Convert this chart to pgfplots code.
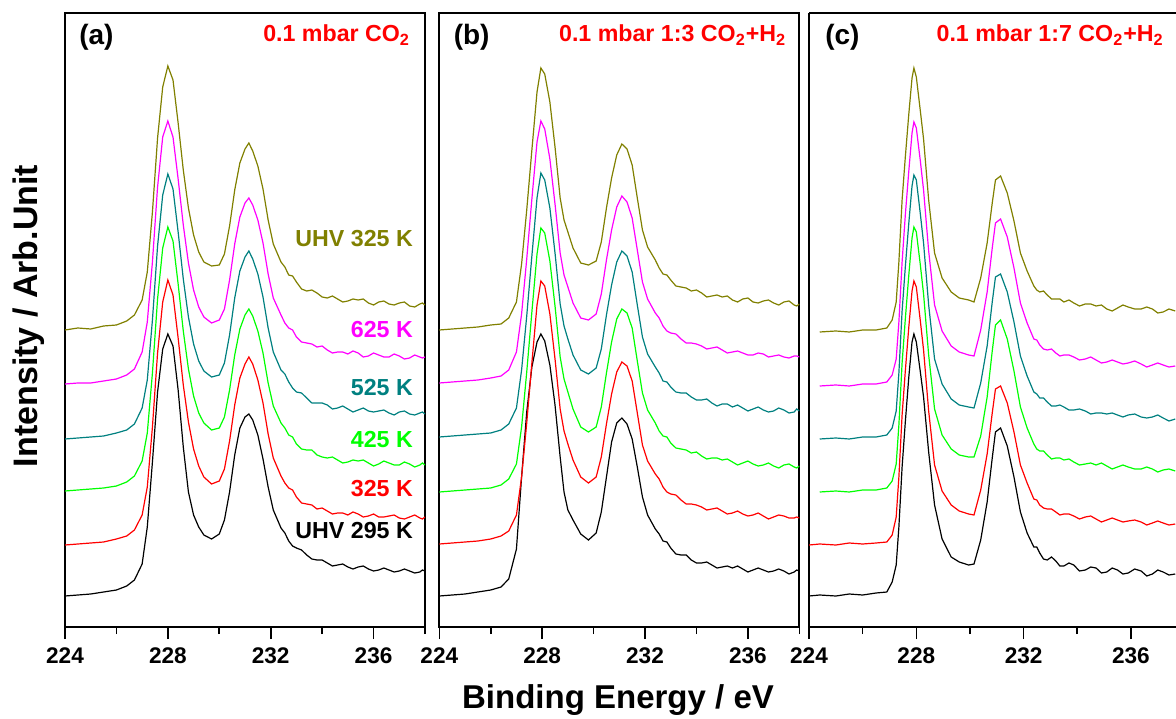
\documentclass[border=0pt]{standalone}
\usepackage{pgfplots}
\pgfplotsset{compat=1.18}
\usepackage{fontspec}
\setmainfont{Liberation Sans}
\setsansfont{Liberation Sans}

\definecolor{cOlive}{RGB}{128,128,0}
\definecolor{cMag}{RGB}{255,0,255}
\definecolor{cTeal}{RGB}{0,128,128}
\definecolor{cGreen}{RGB}{0,255,0}
\definecolor{cRed}{RGB}{255,0,0}

\newcommand{\tk}{\fontsize{11.3}{13}\selectfont\bfseries}
\newcommand{\lbl}{\fontsize{11.6}{13}\selectfont\bfseries}
\newcommand{\cond}{\fontsize{11.6}{13}\selectfont\bfseries}
\newcommand{\pan}{\fontsize{14}{16}\selectfont\bfseries}

\pgfplotsset{
  xps/.style={
    scale only axis, width=180pt, height=307pt,
    xmin=224, xmax=238, ymin=0, ymax=614,
    xtick={224,228,232,236}, minor xtick={226,230,234,238},
    xtick pos=bottom, ytick=\empty,
    tick align=outside,
    major tick length=6pt, minor tick length=3.5pt,
    axis line style={line width=1pt},
    every tick/.style={black, line width=0.8pt},
    xticklabel style={font=\tk},
    xticklabel shift=1pt,
    /pgf/number format/assume math mode=true,
    every axis plot/.append style={line width=0.6pt, no markers},
  },
}

\begin{document}
\begin{tikzpicture}
\useasboundingbox (0,0) rectangle (588pt,359pt);

% ---------- (a) 0.1 mbar CO2 ----------
\begin{axis}[xps, at={(32.5pt,45.5pt)}, anchor=south west]
\addplot[black] coordinates {
(224.0,31)(224.5,32)(225.0,33)(225.5,35)(226.0,37)(226.4,41)(226.7,47)(227.0,63)(227.2,100)(227.4,165)
(227.6,235)(227.8,278)(228.0,293)(228.2,281)(228.4,237)(228.6,180)(228.8,135)(229.0,112)(229.2,100)(229.4,92)
(229.7,88)(230.0,93)(230.2,107)(230.4,135)(230.6,172)(230.8,199)(231.0,210)(231.15,213)(231.3,207)(231.5,192)
(231.7,168)(231.9,140)(232.1,117)
(232.4,99)(232.55,94)(232.7,86)(232.85,81)(233.0,79)(233.2,77)(233.4,72)(233.6,68)(233.8,67)(234.0,67)(234.2,64)(234.4,61)(234.6,62)(234.8,63)(235.0,60)(235.2,58)(235.4,60)(235.6,61)(235.8,58)(236.0,56)(236.2,57)(236.4,59)(236.6,57)(236.8,55)(237.0,56)(237.2,58)(237.4,56)(237.6,54)(237.8,55)(237.9,57)(238.0,56)};
\addplot[cRed] coordinates {
(224.0,82)(224.5,83)(225.0,84)(225.5,85)(226.0,88)(226.4,91)(226.7,97)(227.0,112)(227.2,140)(227.4,200)
(227.6,274)(227.8,325)(228.0,347)(228.2,332)(228.4,289)(228.6,242)(228.8,205)(229.0,178)(229.2,161)(229.4,150)
(229.7,143)(230.0,146)(230.2,158)(230.4,186)(230.6,222)(230.8,249)(231.0,263)(231.15,270)(231.3,263)(231.5,247)
(231.7,224)(231.9,193)(232.1,169)
(232.4,151)(232.55,144)(232.7,139)(232.85,137)(233.0,130)(233.2,124)(233.4,123)(233.6,122)(233.8,118)(234.0,119)(234.2,116)(234.4,113)(234.6,114)(234.8,114)(235.0,112)(235.2,115)(235.4,113)(235.6,110)(235.8,111)(236.0,113)(236.2,110)(236.4,110)(236.6,111)(236.8,112)(237.0,109)(237.2,108)(237.4,110)(237.6,112)(237.8,109)(237.9,108)(238.0,110)};
\addplot[cGreen] coordinates {
(224.0,136)(224.5,137)(225.0,138)(225.5,139)(226.0,141)(226.4,145)(226.7,151)(227.0,166)(227.2,194)(227.4,254)
(227.6,328)(227.8,379)(228.0,400)(228.2,386)(228.4,343)(228.6,296)(228.8,258)(229.0,231)(229.2,214)(229.4,204)
(229.7,197)(230.0,199)(230.2,210)(230.4,237)(230.6,272)(230.8,298)(231.0,312)(231.15,318)(231.3,311)(231.5,296)
(231.7,274)(231.9,244)(232.1,221)
(232.4,204)(232.55,199)(232.7,192)(232.85,190)(233.0,183)(233.2,178)(233.4,177)(233.6,177)(233.8,172)(234.0,170)(234.2,169)(234.4,170)(234.6,167)(234.8,164)(235.0,165)(235.2,167)(235.4,166)(235.6,167)(235.8,164)(236.0,161)(236.2,163)(236.4,166)(236.6,164)(236.8,162)(237.0,162)(237.2,165)(237.4,163)(237.6,160)(237.8,162)(237.9,164)(238.0,162)};
\addplot[cTeal] coordinates {
(224.0,188)(224.5,189)(225.0,190)(225.5,191)(226.0,194)(226.4,197)(226.7,203)(227.0,219)(227.2,247)(227.4,307)
(227.6,381)(227.8,432)(228.0,453)(228.2,438)(228.4,395)(228.6,348)(228.8,310)(229.0,283)(229.2,266)(229.4,256)
(229.7,250)(230.0,252)(230.2,264)(230.4,292)(230.6,329)(230.8,356)(231.0,370)(231.15,376)(231.3,368)(231.5,353)
(231.7,330)(231.9,299)(232.1,275)
(232.4,257)(232.55,253)(232.7,245)(232.85,239)(233.0,235)(233.2,234)(233.4,229)(233.6,224)(233.8,224)(234.0,224)(234.2,222)(234.4,218)(234.6,219)(234.8,221)(235.0,218)(235.2,215)(235.4,217)(235.6,219)(235.8,216)(236.0,215)(236.2,216)(236.4,217)(236.6,214)(236.8,212)(237.0,215)(237.2,216)(237.4,213)(237.6,212)(237.8,214)(237.9,215)(238.0,213)};
\addplot[cMag] coordinates {
(224.0,243)(224.5,244)(225.0,244)(225.5,246)(226.0,248)(226.4,252)(226.7,258)(227.0,275)(227.2,305)(227.4,365)
(227.6,440)(227.8,490)(228.0,506)(228.2,490)(228.4,448)(228.6,402)(228.8,364)(229.0,337)(229.2,320)(229.4,310)
(229.7,304)(230.0,307)(230.2,318)(230.4,347)(230.6,383)(230.8,410)(231.0,424)(231.15,429)(231.3,422)(231.5,407)
(231.7,384)(231.9,353)(232.1,329)
(232.4,312)(232.55,304)(232.7,299)(232.85,297)(233.0,290)(233.2,285)(233.4,284)(233.6,283)(233.8,280)(234.0,281)(234.2,277)(234.4,274)(234.6,275)(234.8,275)(235.0,273)(235.2,276)(235.4,274)(235.6,270)(235.8,271)(236.0,274)(236.2,272)(236.4,270)(236.6,270)(236.8,273)(237.0,271)(237.2,268)(237.4,269)(237.6,272)(237.8,270)(237.9,269)(238.0,270)};
\addplot[cOlive] coordinates {
(224.0,297)(224.5,299)(225.0,298)(225.5,301)(226.0,302)(226.4,306)(226.7,312)(227.0,327)(227.2,355)(227.4,415)
(227.6,489)(227.8,540)(228.0,561)(228.2,547)(228.4,504)(228.6,457)(228.8,419)(229.0,392)(229.2,375)(229.4,365)
(229.7,361)(230.0,362)(230.2,373)(230.4,401)(230.6,437)(230.8,464)(231.0,478)(231.15,484)(231.3,476)(231.5,461)
(231.7,438)(231.9,407)(232.1,383)
(232.4,365)(232.55,360)(232.7,352)(232.85,351)(233.0,345)(233.2,338)(233.4,336)(233.6,337)(233.8,334)(234.0,330)(234.2,329)(234.4,331)(234.6,328)(234.8,325)(235.0,326)(235.2,328)(235.4,327)(235.6,328)(235.8,324)(236.0,322)(236.2,325)(236.4,326)(236.6,323)(236.8,322)(237.0,324)(237.2,325)(237.4,321)(237.6,320)(237.8,323)(237.9,324)(238.0,322)};
\node[anchor=base west, font=\pan] at (rel axis cs:0.02,0.948) {(a)};
\node[anchor=base east, font=\cond, text=cRed] at (rel axis cs:0.978,0.953) {0.1 mbar CO\textsubscript{2}};
\node[anchor=base east, font=\lbl, text=cOlive] at (axis cs:237.8,380) {UHV 325 K};
\node[anchor=base east, font=\lbl, text=cMag] at (axis cs:237.8,290) {625 K};
\node[anchor=base east, font=\lbl, text=cTeal] at (axis cs:237.8,232) {525 K};
\node[anchor=base east, font=\lbl, text=cGreen] at (axis cs:237.8,180) {425 K};
\node[anchor=base east, font=\lbl, text=cRed] at (axis cs:237.8,131) {325 K};
\node[anchor=base east, font=\lbl, text=black] at (axis cs:237.8,89) {UHV 295 K};
\end{axis}

% ---------- (b) 0.1 mbar 1:3 CO2+H2 ----------
\begin{axis}[xps, at={(219.65pt,45.5pt)}, anchor=south west]
\addplot[black] coordinates {
(224.0,31)(224.5,32)(225.0,33)(225.5,35)(226.0,37)(226.4,40)(226.7,48)(227.0,78)(227.2,150)(227.4,215)
(227.6,260)(227.8,285)(227.95,293)(228.1,286)(228.3,262)(228.5,222)(228.7,170)(228.85,135)(229.0,117)(229.2,107)
(229.5,93)(229.8,87)(230.1,94)(230.3,115)(230.5,150)(230.7,185)(230.9,204)(231.1,209)(231.3,203)(231.5,188)
(231.7,160)(231.9,130)(232.1,112)
(232.4,98)(232.55,93)(232.7,86)(232.85,85)(233.0,79)(233.2,73)(233.4,72)(233.6,72)(233.8,67)(234.0,64)(234.2,64)(234.4,65)(234.6,62)(234.8,59)(235.0,60)(235.2,61)(235.4,59)(235.6,61)(235.8,58)(236.0,55)(236.2,57)(236.4,59)(236.6,57)(236.8,55)(237.0,56)(237.2,58)(237.4,56)(237.6,53)(237.8,55)(237.9,57)(238.0,56)};
\addplot[cRed] coordinates {
(224.0,83)(224.5,84)(225.0,85)(225.5,86)(226.0,88)(226.4,91)(226.7,96)(227.0,112)(227.2,150)(227.4,204)
(227.6,264)(227.8,322)(227.95,346)(228.1,341)(228.3,313)(228.5,268)(228.7,218)(228.85,196)(229.0,183)(229.2,167)
(229.5,150)(229.8,144)(230.1,150)(230.3,170)(230.5,203)(230.7,233)(230.9,255)(231.1,265)(231.3,261)(231.5,246)
(231.7,214)(231.9,182)(232.1,166)
(232.4,153)(232.55,148)(232.7,140)(232.85,135)(233.0,133)(233.2,132)(233.4,127)(233.6,123)(233.8,123)(234.0,122)(234.2,120)(234.4,117)(234.6,118)(234.8,119)(235.0,116)(235.2,113)(235.4,114)(235.6,116)(235.8,113)(236.0,111)(236.2,112)(236.4,114)(236.6,111)(236.8,108)(237.0,110)(237.2,112)(237.4,111)(237.6,109)(237.8,109)(237.9,110)(238.0,109)};
\addplot[cGreen] coordinates {
(224.0,135)(224.5,136)(225.0,137)(225.5,138)(226.0,139)(226.4,142)(226.7,148)(227.0,163)(227.2,200)(227.4,255)
(227.6,315)(227.8,373)(227.95,399)(228.1,394)(228.3,366)(228.5,321)(228.7,270)(228.85,248)(229.0,235)(229.2,218)
(229.5,200)(229.8,195)(230.1,200)(230.3,220)(230.5,254)(230.7,285)(230.9,308)(231.1,318)(231.3,314)(231.5,299)
(231.7,266)(231.9,234)(232.1,217)
(232.4,204)(232.55,196)(232.7,191)(232.85,190)(233.0,184)(233.2,179)(233.4,178)(233.6,177)(233.8,174)(234.0,175)(234.2,171)(234.4,168)(234.6,169)(234.8,169)(235.0,167)(235.2,168)(235.4,165)(235.6,162)(235.8,164)(236.0,166)(236.2,163)(236.4,161)(236.6,162)(236.8,164)(237.0,161)(237.2,159)(237.4,162)(237.6,163)(237.8,160)(237.9,159)(238.0,161)};
\addplot[cTeal] coordinates {
(224.0,190)(224.5,191)(225.0,192)(225.5,193)(226.0,194)(226.4,197)(226.7,203)(227.0,219)(227.2,257)(227.4,311)
(227.6,371)(227.8,429)(227.95,454)(228.1,447)(228.3,419)(228.5,374)(228.7,323)(228.85,301)(229.0,288)(229.2,272)
(229.5,257)(229.8,253)(230.1,259)(230.3,278)(230.5,312)(230.7,342)(230.9,365)(231.1,376)(231.3,371)(231.5,355)
(231.7,322)(231.9,290)(232.1,273)
(232.4,260)(232.55,254)(232.7,246)(232.85,245)(233.0,240)(233.2,235)(233.4,234)(233.6,234)(233.8,230)(234.0,227)(234.2,227)(234.4,228)(234.6,224)(234.8,221)(235.0,223)(235.2,223)(235.4,220)(235.6,222)(235.8,219)(236.0,216)(236.2,218)(236.4,220)(236.6,217)(236.8,215)(237.0,216)(237.2,219)(237.4,217)(237.6,214)(237.8,215)(237.9,218)(238.0,216)};
\addplot[cMag] coordinates {
(224.0,244)(224.5,245)(225.0,246)(225.5,247)(226.0,249)(226.4,251)(226.7,257)(227.0,275)(227.2,313)(227.4,368)
(227.6,428)(227.8,485)(227.95,506)(228.1,498)(228.3,468)(228.5,423)(228.7,374)(228.85,352)(229.0,340)(229.2,324)
(229.5,309)(229.8,307)(230.1,313)(230.3,333)(230.5,367)(230.7,397)(230.9,420)(231.1,431)(231.3,425)(231.5,409)
(231.7,377)(231.9,345)(232.1,328)
(232.4,314)(232.55,309)(232.7,301)(232.85,296)(233.0,294)(233.2,293)(233.4,288)(233.6,284)(233.8,284)(234.0,283)(234.2,281)(234.4,278)(234.6,279)(234.8,280)(235.0,277)(235.2,274)(235.4,275)(235.6,276)(235.8,274)(236.0,272)(236.2,272)(236.4,274)(236.6,273)(236.8,270)(237.0,271)(237.2,272)(237.4,270)(237.6,269)(237.8,271)(237.9,271)(238.0,270)};
\addplot[cOlive] coordinates {
(224.0,297)(224.5,298)(225.0,299)(225.5,300)(226.0,302)(226.4,303)(226.7,309)(227.0,325)(227.2,363)(227.4,417)
(227.6,477)(227.8,535)(227.95,559)(228.1,553)(228.3,525)(228.5,480)(228.7,429)(228.85,407)(229.0,395)(229.2,379)
(229.5,364)(229.8,362)(230.1,366)(230.3,385)(230.5,419)(230.7,449)(230.9,472)(231.1,483)(231.3,478)(231.5,462)
(231.7,429)(231.9,397)(232.1,380)
(232.4,367)(232.55,359)(232.7,353)(232.85,352)(233.0,347)(233.2,341)(233.4,340)(233.6,339)(233.8,336)(234.0,337)(234.2,334)(234.4,330)(234.6,331)(234.8,332)(235.0,330)(235.2,331)(235.4,327)(235.6,325)(235.8,328)(236.0,329)(236.2,325)(236.4,324)(236.6,326)(236.8,327)(237.0,324)(237.2,322)(237.4,325)(237.6,326)(237.8,322)(237.9,321)(238.0,323)};
\node[anchor=base west, font=\pan] at (rel axis cs:0.0206,0.948) {(b)};
\node[anchor=base east, font=\cond, text=cRed] at (rel axis cs:0.983,0.953) {0.1 mbar 1:3 CO\textsubscript{2}+H\textsubscript{2}};
\end{axis}

% ---------- (c) 0.1 mbar 1:7 CO2+H2 (cut at the right edge) ----------
\begin{axis}[xps, at={(404.5pt,45.5pt)}, anchor=south west, width=183.5pt, xmax=237.68, axis y line*=left]
\addplot[black] coordinates {
(224.0,31)(224.4,32)(225.0,31)(225.5,33)(226.0,32)(226.5,34)(226.9,35)(227.1,45)(227.25,62)(227.35,100)
(227.47,160)(227.59,205)(227.72,250)(227.84,285)(227.91,293)(228.0,285)(228.15,255)(228.27,230)(228.46,175)(228.68,122)
(228.96,88)(229.3,70)(229.6,65)(229.95,62)(230.15,63)(230.4,87)(230.64,125)(230.83,169)(230.95,195)(231.14,199)
(231.39,181)(231.64,150)(231.88,115)(232.13,94)
(232.38,80)(232.49,80)(232.6,74)(232.74,68)(232.88,67)(233.04,70)(233.2,66)(233.35,61)(233.5,61)(233.69,64)(233.87,62)(234.08,56)(234.3,57)(234.5,60)(234.7,59)(234.9,54)(235.1,55)(235.3,59)(235.5,57)(235.7,53)(235.9,54)(236.14,58)(236.38,56)(236.59,51)(236.8,53)(237.0,57)(237.2,55)(237.42,52)(237.65,53)};
\addplot[cRed] coordinates {
(224.0,82)(224.4,83)(225.0,82)(225.5,84)(226.0,83)(226.5,84)(226.9,85)(227.1,92)(227.25,110)(227.35,150)
(227.47,212)(227.59,256)(227.72,300)(227.84,336)(227.91,346)(228.0,340)(228.15,306)(228.27,277)(228.46,216)(228.68,162)
(228.96,136)(229.3,122)(229.6,116)(229.95,113)(230.15,112)(230.4,137)(230.64,173)(230.83,214)(230.95,238)(231.14,241)
(231.39,224)(231.64,195)(231.88,162)(232.13,144)
(232.38,128)(232.49,127)(232.6,122)(232.74,119)(232.88,118)(233.04,118)(233.2,115)(233.35,112)(233.5,113)(233.69,113)(233.87,111)(234.08,108)(234.3,110)(234.5,111)(234.7,108)(234.9,105)(235.1,107)(235.3,109)(235.5,107)(235.7,105)(235.9,106)(236.14,107)(236.38,105)(236.59,102)(236.8,104)(237.0,106)(237.2,104)(237.42,102)(237.65,103)};
\addplot[cGreen] coordinates {
(224.4,135)(225.0,136)(225.5,135)(226.0,137)(226.5,137)(226.9,139)(227.1,146)(227.25,163)(227.35,202)
(227.47,264)(227.59,308)(227.72,352)(227.84,389)(227.91,400)(228.0,395)(228.15,362)(228.27,333)(228.46,272)(228.68,218)
(228.96,192)(229.3,178)(229.6,172)(229.95,170)(230.15,170)(230.4,191)(230.64,230)(230.83,276)(230.95,302)(231.14,307)
(231.39,288)(231.64,256)(231.88,220)(232.13,199)
(232.38,183)(232.49,178)(232.6,176)(232.74,176)(232.88,172)(233.04,168)(233.2,169)(233.35,169)(233.5,167)(233.69,168)(233.87,165)(234.08,162)(234.3,163)(234.5,164)(234.7,162)(234.9,164)(235.1,161)(235.3,158)(235.5,160)(235.7,162)(235.9,160)(236.14,158)(236.38,158)(236.59,160)(236.8,158)(237.0,155)(237.2,157)(237.42,158)(237.65,156)};
\addplot[cTeal] coordinates {
(224.4,188)(225.0,189)(225.5,188)(226.0,190)(226.5,190)(226.9,192)(227.1,199)(227.25,216)(227.35,254)
(227.47,316)(227.59,360)(227.72,404)(227.84,441)(227.91,452)(228.0,447)(228.15,413)(228.27,384)(228.46,322)(228.68,268)
(228.96,243)(229.3,228)(229.6,222)(229.95,220)(230.15,219)(230.4,244)(230.64,281)(230.83,325)(230.95,350)(231.14,353)
(231.39,335)(231.64,305)(231.88,271)(232.13,251)
(232.38,235)(232.49,233)(232.6,229)(232.74,229)(232.88,225)(233.04,221)(233.2,221)(233.35,222)(233.5,220)(233.69,217)(233.87,217)(234.08,218)(234.3,216)(234.5,213)(234.7,214)(234.9,214)(235.1,213)(235.3,214)(235.5,212)(235.7,210)(235.9,212)(236.14,213)(236.38,210)(236.59,209)(236.8,210)(237.0,212)(237.2,209)(237.42,206)(237.65,208)};
\addplot[cMag] coordinates {
(224.4,241)(225.0,242)(225.5,241)(226.0,243)(226.5,243)(226.9,245)(227.1,252)(227.25,268)(227.35,305)
(227.47,365)(227.59,412)(227.72,456)(227.84,494)(227.91,505)(228.0,499)(228.15,466)(228.27,437)(228.46,376)(228.68,322)
(228.96,296)(229.3,281)(229.6,275)(229.95,272)(230.15,271)(230.4,297)(230.64,335)(230.83,379)(230.95,404)(231.14,408)
(231.39,390)(231.64,359)(231.88,324)(232.13,304)
(232.38,288)(232.49,287)(232.6,282)(232.74,278)(232.88,277)(233.04,278)(233.2,274)(233.35,271)(233.5,272)(233.69,272)(233.87,270)(234.08,267)(234.3,268)(234.5,270)(234.7,267)(234.9,264)(235.1,265)(235.3,267)(235.5,265)(235.7,263)(235.9,264)(236.14,266)(236.38,263)(236.59,260)(236.8,262)(237.0,264)(237.2,262)(237.42,260)(237.65,261)};
\addplot[cOlive] coordinates {
(224.4,295)(225.0,296)(225.5,295)(226.0,297)(226.5,297)(226.9,299)(227.1,307)(227.25,325)(227.35,365)
(227.47,427)(227.59,470)(227.72,513)(227.84,549)(227.91,559)(228.0,550)(228.15,516)(228.27,488)(228.46,427)(228.68,374)
(228.96,349)(229.3,335)(229.6,329)(229.95,327)(230.15,325)(230.4,349)(230.64,384)(230.83,424)(230.95,447)(231.14,451)
(231.39,434)(231.64,406)(231.88,374)(232.13,356)
(232.38,341)(232.49,337)(232.6,335)(232.74,336)(232.88,332)(233.04,328)(233.2,328)(233.35,328)(233.5,325)(233.69,327)(233.87,324)(234.08,321)(234.3,323)(234.5,323)(234.7,321)(234.9,322)(235.1,318)(235.3,316)(235.5,319)(235.7,322)(235.9,320)(236.14,318)(236.38,318)(236.59,320)(236.8,318)(237.0,314)(237.2,315)(237.42,318)(237.65,316)};
\node[anchor=base west, font=\pan] at (rel axis cs:0.025,0.948) {(c)};
\node[anchor=base east, font=\cond, text=cRed] at (rel axis cs:0.9856,0.953) {0.1 mbar 1:7 CO\textsubscript{2}+H\textsubscript{2}};
\end{axis}

\node[anchor=base, font=\fontsize{16.5}{18}\selectfont\bfseries] at (309pt,5pt) {Binding Energy / eV};
\node[anchor=base, rotate=90, font=\fontsize{17}{19}\selectfont\bfseries] at (18.75pt,201pt) {Intensity / Arb.Unit};
\end{tikzpicture}
\end{document}
